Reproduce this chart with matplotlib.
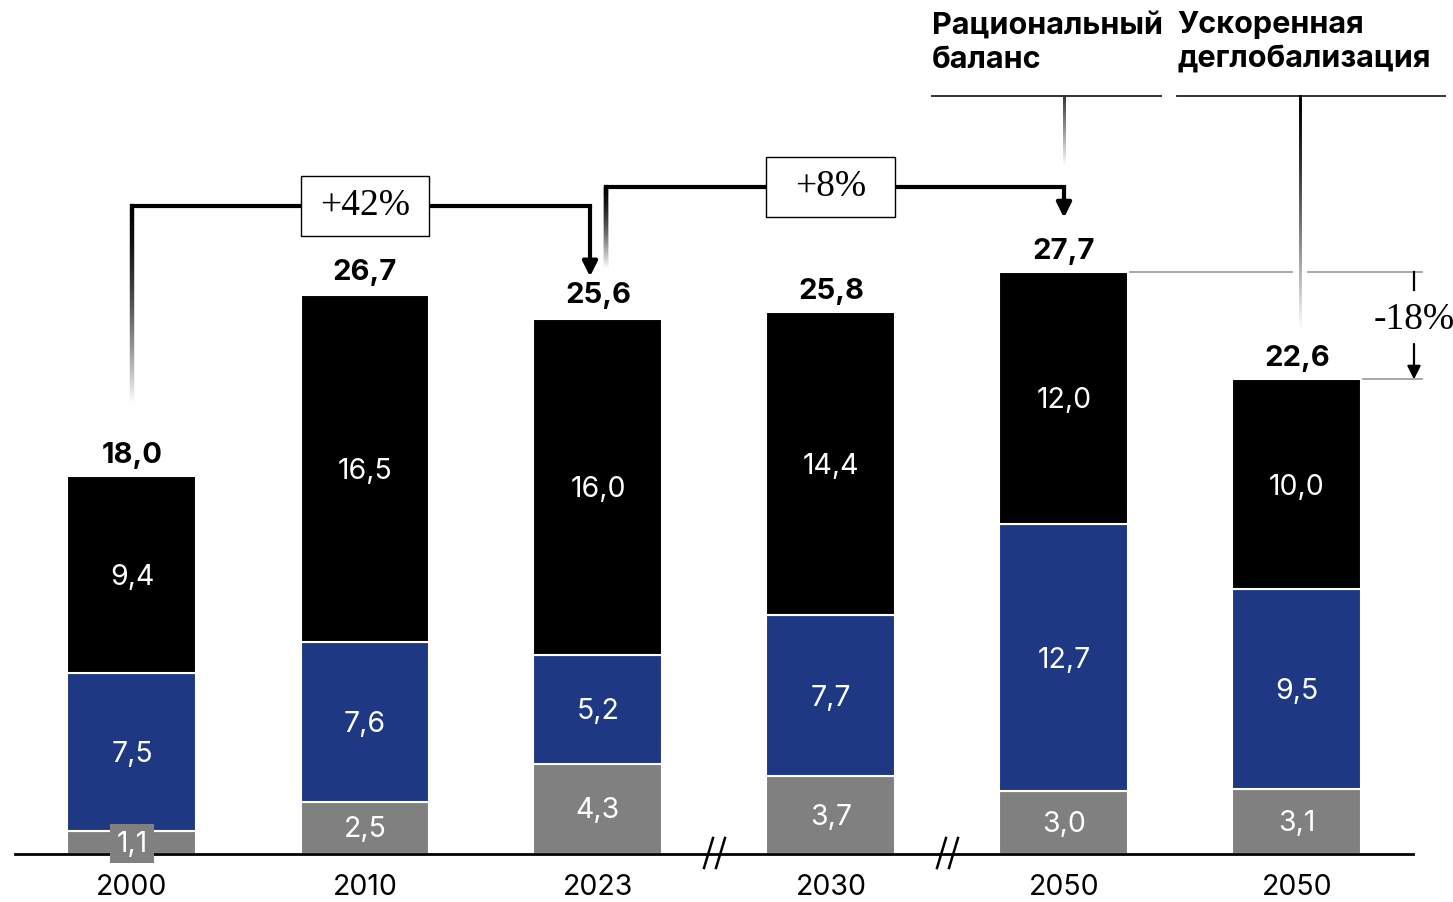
import numpy as np
import matplotlib.pyplot as plt
from matplotlib.collections import LineCollection
from matplotlib.patches import Rectangle

plt.rcParams['font.family'] = ['Inter', 'DejaVu Sans']

years = ['2000', '2010', '2023', '2030', '2050', '2050']
grey_part = [1.1, 2.5, 4.3, 3.7, 3.0, 3.1]
blue_part = [7.5, 7.6, 5.2, 7.7, 12.7, 9.5]
black_part = [9.4, 16.5, 16.0, 14.4, 12.0, 10.0]
totals = [18.0, 26.7, 25.6, 25.8, 27.7, 22.6]
scenarios = ['Рациональный\nбаланс', 'Ускоренная\nдеглобализация']

GREY = '#808080'
BLUE = '#1e3884'
W, H = 1453, 903
X0, DX = 132, 233        # pixel centre of first bar, bar spacing
BASE, PPU = 855, 21.0    # baseline pixel row, pixels per unit

fig = plt.figure(figsize=(W / 100, H / 100), dpi=100)
ax = fig.add_axes([0, 0, 1, 1])
ax.set_xlim(-X0 / DX, (W - X0) / DX)
ax.set_ylim(-(H - BASE) / PPU, BASE / PPU)
ax.axis('off')


def px(x):
    return (x - X0) / DX


def py(y):
    return (BASE - y) / PPU


def fade_line(x, y_top, y_bot, lw, start=0.0, power=1.6, n=80):
    ys = np.linspace(y_top, y_bot, n + 1)
    segs = [[(x, ys[i]), (x, ys[i + 1])] for i in range(n)]
    t = np.linspace(0, 1, n) ** power
    shades = start + (1 - start) * t
    ax.add_collection(LineCollection(segs, colors=[(s, s, s) for s in shades],
                                     linewidths=lw, capstyle='projecting',
                                     zorder=2))


def arrow_down(x, y_from, y_to, lw=3, color='black', scale=22):
    ax.annotate('', xy=(x, y_to), xytext=(x, y_from),
                arrowprops=dict(arrowstyle='-|>', color=color, lw=lw,
                                mutation_scale=scale, shrinkA=0, shrinkB=0),
                zorder=3)


def fmt(v):
    return f'{v:.1f}'.replace('.', ',')


x = np.arange(len(years))
bw = 129 / DX
grey_arr = np.array(grey_part)
blue_arr = np.array(blue_part)
black_arr = np.array(black_part)

ax.bar(x, grey_arr, bw, color=GREY, edgecolor='white', linewidth=1.5, zorder=1)
ax.bar(x, blue_arr, bw, bottom=grey_arr, color=BLUE, edgecolor='white',
       linewidth=1.5, zorder=1)
ax.bar(x, black_arr, bw, bottom=grey_arr + blue_arr, color='black',
       edgecolor='white', linewidth=1.5, zorder=1)

for i in x:
    lab = dict(ha='center', va='center', color='white', fontsize=20.5, zorder=4)
    box = None
    if grey_part[i] < 2:
        box = dict(boxstyle='square,pad=0.22', fc=GREY, ec='none')
    ax.text(i, grey_part[i] / 2 - 0.05, fmt(grey_part[i]), bbox=box, **lab)
    ax.text(i, grey_part[i] + blue_part[i] / 2 - 0.08, fmt(blue_part[i]), **lab)
    ax.text(i, grey_part[i] + blue_part[i] + black_part[i] / 2 - 0.08,
            fmt(black_part[i]), **lab)
    ax.annotate(fmt(totals[i]), (i, totals[i]), xytext=(0, 6),
                textcoords='offset points', ha='center', va='bottom',
                fontsize=21, fontweight='bold')
    ax.text(i, py(888), years[i], ha='center', va='center', fontsize=20.5)

# baseline with axis breaks
ax.plot([px(15), px(1413)], [0, 0], color='black', lw=2, zorder=2)
for xb in (2.5, 3.5):
    for off in (-6, 6):
        xc = xb + off / DX
        ax.plot([xc - 4.5 / DX, xc + 4.5 / DX], [py(869), py(839)],
                color='black', lw=1.8, zorder=3)

# growth brackets
serif = dict(family='Liberation Serif', fontsize=27, ha='center', va='center',
             zorder=5)


def bracket(level, y_start, y_end, x_left, x_right, label, box_at):
    fade_line(x_left, level, y_start, 3)
    ax.plot([x_left, x_right], [level, level], color='black', lw=3,
            solid_capstyle='projecting', zorder=2)
    arrow_down(x_right, level, y_end)
    bh = 60 / PPU
    ax.add_patch(Rectangle((box_at - bw / 2, level - bh / 2), bw, bh,
                           fc='white', ec='black', lw=1, zorder=4))
    ax.text(box_at, level + 0.05, label, **serif)


bracket(py(207), totals[0] + 3.3, totals[2] + 1.9, 0, 2 - 8 / DX,
        f'+{(totals[2] / totals[0] - 1) * 100:.0f}%', 1)
bracket(py(188), totals[2] + 2.2, totals[4] + 2.6, 2 + 8 / DX, 4,
        f'+{(totals[4] / totals[2] - 1) * 100:.0f}%', 3)

# scenario headers
hl = py(97)
ax.plot([px(932), px(1161)], [hl, hl], color='#333333', lw=1.4)
ax.plot([px(1177), px(1445)], [hl, hl], color='#333333', lw=1.4)
for xt, name in zip((932, 1177), scenarios):
    ax.text(px(xt), py(74), name, ha='left', va='bottom', fontsize=22,
            fontweight='bold', linespacing=1.3)
fade_line(4, hl, py(168), 2, start=0.2, power=1.0)

# difference between scenarios
top, low = totals[4], totals[5]
xr = px(1422)
xv = px(1300)
ax.plot([4 + bw / 2 + 2 / DX, xv - 8 / DX], [top, top], color='#999999', lw=1.2)
ax.plot([xv + 8 / DX, xr], [top, top], color='#999999', lw=1.2)
ax.plot([5 + bw / 2 + 2 / DX, xr], [low, low], color='#999999', lw=1.2)
fade_line(xv, hl, py(332), 2, start=0.0, power=1.3)
xa = px(1414)
ax.plot([xa, xa], [top, py(291)], color='black', lw=1.6)
arrow_down(xa, py(345), low, lw=1.6, scale=20)
ax.text(xa, py(320), f'{(low / top - 1) * 100:.0f}%', **serif)

fig.savefig('out.png', dpi=100)
